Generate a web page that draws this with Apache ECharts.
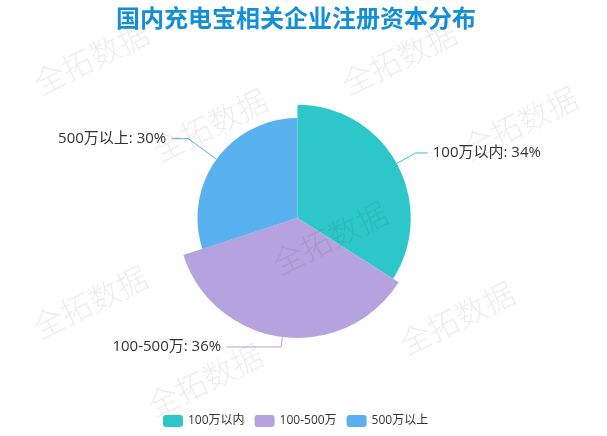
<!DOCTYPE html>
<html>
<head>
<meta charset="utf-8">
<script src="https://cdn.jsdelivr.net/npm/echarts@6/dist/echarts.min.js"></script>
<style>html,body{margin:0;padding:0;background:#fff}#main{width:607px;height:436px}</style>
</head>
<body>
<div id="main"></div>
<script>
const titleText = '国内充电宝相关企业注册资本分布';
const categories = ['100万以内', '100-500万', '500万以上'];
const values = [34, 36, 30];
const colors = ['#2ec7c9', '#b6a2de', '#5ab1ef'];
const watermarkText = '全拓数据';
const watermarkCenters = [[91, 58], [399, 58], [210, 125], [520, 123], [330, 238], [90, 302], [457, 318], [205, 380]];

// per-slice label line lengths (style only)
const labelLineStyles = {
  '100万以内': {length: 15, length2: 12},
  '100-500万': {length: 10, length2: 55},
  '500万以上': {length: 15, length2: 17}
};

const chart = echarts.init(document.getElementById('main'), null, {renderer: 'canvas'});
const cjk = '"Noto Sans CJK SC", sans-serif';
const mixed = '"Open Sans", "Noto Sans CJK SC", sans-serif';
chart.setOption({
  backgroundColor: '#fff',
  color: colors,
  title: {
    text: titleText,
    left: 111,
    top: 1,
    textStyle: {color: '#138fd7', fontSize: 24, fontWeight: 'bold', fontFamily: cjk}
  },
  legend: {
    data: categories,
    bottom: 4,
    left: 158,
    itemWidth: 20,
    itemHeight: 12,
    itemGap: 10,
    icon: 'roundRect',
    textStyle: {color: '#333', fontSize: 12, fontFamily: mixed}
  },
  graphic: watermarkCenters.map(c => ({
    type: 'text',
    x: c[0], y: c[1],
    rotation: 26 * Math.PI / 180,
    z: 100,
    silent: true,
    style: {
      text: watermarkText,
      fill: 'rgba(0,0,0,0.07)',
      font: '300 31px ' + cjk,
      align: 'center',
      verticalAlign: 'middle'
    }
  })),
  series: [{
    type: 'pie',
    roseType: 'radius',
    center: ['49%', '50%'],
    radius: [0, 120],
    startAngle: 90,
    clockwise: true,
    animation: false,
    data: categories.map((n, i) => ({name: n, value: values[i], labelLine: labelLineStyles[n]})),
    label: {
      formatter: '{b}: {d}%',
      color: '#333',
      fontSize: 15,
      fontFamily: mixed
    },
    labelLine: {length: 15, length2: 15}
  }]
});
</script>
</body>
</html>
